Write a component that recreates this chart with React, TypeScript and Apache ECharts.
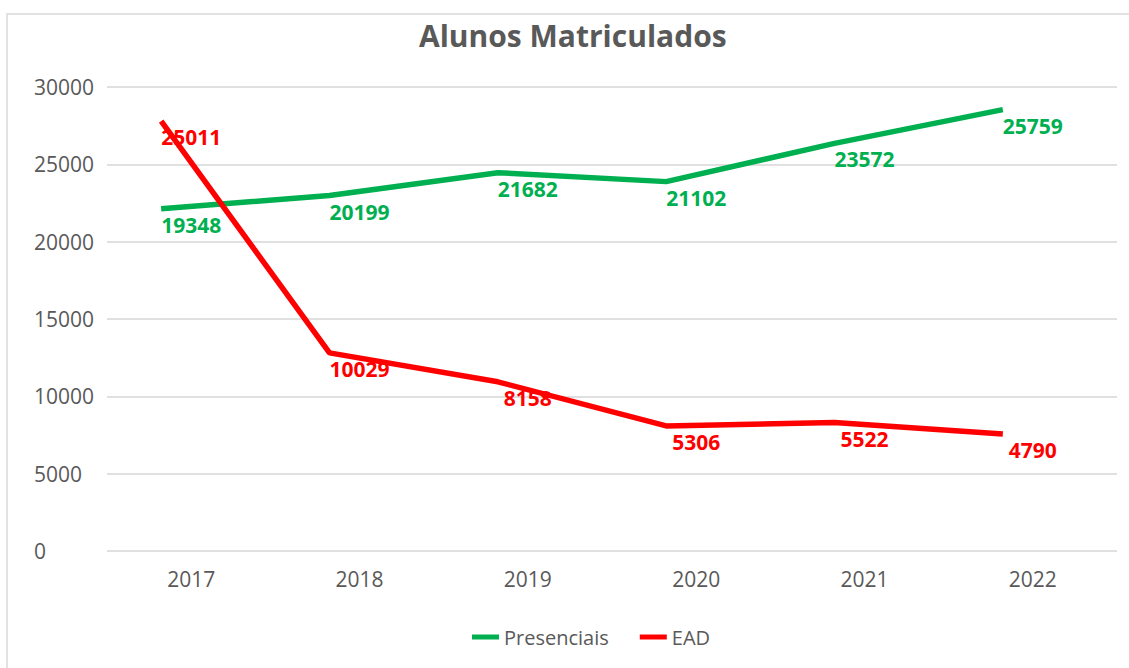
import React, { useEffect, useRef } from "react";
import * as echarts from "echarts";

const years = ["2017", "2018", "2019", "2020", "2021", "2022"];
const presenciais = [19348, 20199, 21682, 21102, 23572, 25759];
const ead = [25011, 10029, 8158, 5306, 5522, 4790];
const yTicks = { min: 0, max: 30000, interval: 5000 };

const FONT = "'Open Sans', sans-serif";
const GRAY = "#595959";
const GREEN = "#00B050";
const RED = "#FF0000";

export default function App() {
  const ref = useRef<HTMLDivElement>(null);
  useEffect(() => {
    if (!ref.current) return;
    const chart = echarts.init(ref.current, undefined, { renderer: "svg" });
    const labelCfg = (color: string) => ({
      show: true,
      position: "inside",
      offset: [30, 16],
      color,
      fontFamily: FONT,
      fontWeight: "bold",
      fontSize: 21,
    });
    chart.setOption({
      animation: false,
      backgroundColor: "#ffffff",
      title: {
        text: "Alunos Matriculados",
        left: 414,
        top: 15,
        textStyle: { fontFamily: FONT, fontWeight: "bold", fontSize: 30, color: GRAY },
      },
      graphic: [
        {
          type: "rect",
          shape: { x: 7, y: 14, width: 1140, height: 700 },
          style: { fill: "none", stroke: "#d9d9d9", lineWidth: 1.5 },
          silent: true,
        },
      ],
      legend: {
        left: 467,
        top: 622,
        icon: "rect",
        itemWidth: 27,
        itemHeight: 5,
        itemGap: 31,
        textStyle: { fontFamily: FONT, fontSize: 20, color: GRAY },
        data: ["Presenciais", "EAD"],
      },
      grid: [
        { left: 107, right: 12, top: 87, bottom: 117 },
        { left: 77, right: 42, top: 44, bottom: 160 },
      ],
      xAxis: [
        {
          type: "category",
          gridIndex: 0,
          data: years,
          axisLine: { show: false },
          axisTick: { show: false },
          axisLabel: { fontFamily: FONT, fontSize: 21, color: GRAY, margin: 17 },
        },
        {
          type: "category",
          gridIndex: 1,
          data: years,
          show: false,
        },
      ],
      yAxis: [
        {
          type: "value",
          gridIndex: 0,
          ...yTicks,
          axisLine: { show: false },
          axisTick: { show: false },
          axisLabel: {
            fontFamily: FONT,
            fontSize: 21,
            color: GRAY,
            margin: 73,
            align: "left",
            formatter: (v: number) => String(v),
          },
          splitLine: { lineStyle: { color: "#e0e0e0", width: 2 } },
        },
        {
          type: "value",
          gridIndex: 1,
          ...yTicks,
          show: false,
          splitLine: { show: false },
        },
      ],
      series: [
        {
          name: "Presenciais",
          type: "line",
          xAxisIndex: 1,
          yAxisIndex: 1,
          data: presenciais,
          symbol: "circle",
          symbolSize: 0.01,
          showSymbol: true,
          itemStyle: { color: GREEN },
          lineStyle: { color: GREEN, width: 5.5 },
          label: labelCfg(GREEN),
        },
        {
          name: "EAD",
          type: "line",
          xAxisIndex: 1,
          yAxisIndex: 1,
          data: ead,
          symbol: "circle",
          symbolSize: 0.01,
          showSymbol: true,
          itemStyle: { color: RED },
          lineStyle: { color: RED, width: 5.5 },
          label: labelCfg(RED),
        },
      ],
    });
    return () => chart.dispose();
  }, []);
  return (
    <div
      ref={ref}
      style={{ position: "absolute", left: 0, top: 0, width: 1129, height: 668 }}
    />
  );
}
